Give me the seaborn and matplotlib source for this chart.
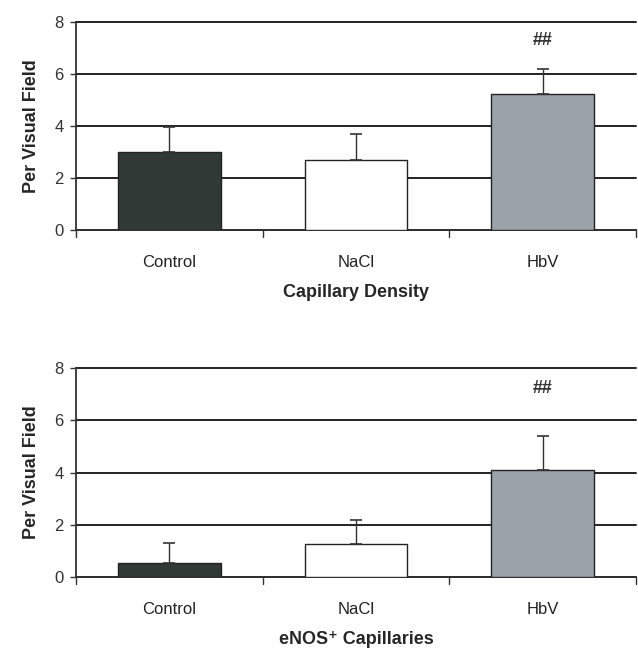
import matplotlib
matplotlib.use("Agg")
import matplotlib.pyplot as plt
import seaborn as sns
import pandas as pd

categories = ["Control", "NaCl", "HbV"]
density_mean = [3.0, 2.7, 5.25]
density_err = [0.95, 1.0, 0.95]
enos_mean = [0.55, 1.25, 4.1]
enos_err = [0.75, 0.95, 1.3]
yticks = [0, 2, 4, 6, 8]
bar_colors = ["#2e3a37", "#ffffff", "#98a4ac"]

sns.set_theme(style="white")
plt.rcParams['font.family'] = ['Liberation Sans', 'DejaVu Sans']

fig = plt.figure(figsize=(6.38, 6.5), dpi=100)
ax1 = fig.add_axes([0.119, 0.646, 0.878, 0.320])
ax2 = fig.add_axes([0.119, 0.112, 0.878, 0.322])

def draw(ax, means, errs, xlabel, mark_y):
    df = pd.DataFrame({"cat": categories, "val": means})
    sns.barplot(data=df, x="cat", y="val", hue="cat", palette=bar_colors,
                width=0.55, edgecolor="#222222", linewidth=1.0, legend=False,
                ax=ax, zorder=3)
    ax.errorbar(range(len(categories)), means, yerr=[[0]*len(errs), errs],
                fmt="none", ecolor="#333333", elinewidth=1.0, capsize=4,
                capthick=1.2, zorder=4)
    ax.set_ylim(0, 8)
    ax.set_xlim(-0.5, 2.5)
    ax.set_yticks(yticks)
    ax.set_yticklabels([str(t) for t in yticks], fontsize=12, color="#333333")
    ax.yaxis.grid(True, color="#111111", linewidth=1.3, zorder=0)
    ax.set_axisbelow(True)
    for gl in ax.yaxis.get_gridlines():
        gl.set_clip_on(False)
    ax.set_xticks([0, 1, 2])
    ax.set_xticklabels(categories, fontsize=12, color="#222222")
    ax.tick_params(axis="x", length=0, pad=18)
    ax.tick_params(axis="y", left=True, length=4, width=1, color="#333333", pad=5)
    for b in [-0.5, 0.5, 1.5, 2.5]:
        ax.plot([b, b], [0, -0.25], color="#333333", lw=1, clip_on=False)
    for s in ["top", "right"]:
        ax.spines[s].set_visible(False)
    for s in ["left", "bottom"]:
        ax.spines[s].set_color("#333333")
        ax.spines[s].set_linewidth(1.3)
    ax.set_ylabel("Per Visual Field", fontsize=13, fontweight="bold", labelpad=10)
    ax.set_xlabel(xlabel, fontsize=13, fontweight="bold", labelpad=10)
    ax.text(2, mark_y, "##", ha="center", va="center", fontsize=13,
            fontweight="bold", color="#333333")

draw(ax1, density_mean, density_err, "Capillary Density", 7.3)
draw(ax2, enos_mean, enos_err, "eNOS\u207a Capillaries", 7.2)

fig.savefig("out.png", dpi=100)
